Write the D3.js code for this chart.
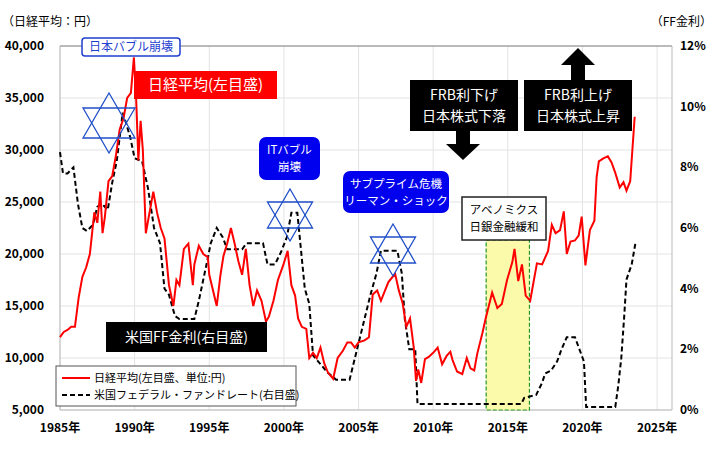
<!DOCTYPE html><html><head><meta charset="utf-8"><script src="https://cdn.jsdelivr.net/npm/d3@7"></script>
<style>body{margin:0;background:#fff}text{font-family:"Noto Sans CJK JP","Noto Sans",sans-serif}</style></head><body><svg id="c" width="714" height="455"></svg>
<script>
const nikkei=[[1985,12000],[1985.25,12500],[1985.5,12700],[1985.75,13000],[1986,13000],[1986.25,15800],[1986.5,17800],[1986.75,18700],[1987,20000],[1987.3,24000],[1987.5,23000],[1987.7,26000],[1987.85,22000],[1988,23500],[1988.25,27000],[1988.5,27500],[1988.75,29500],[1989,32000],[1989.25,33000],[1989.5,35000],[1989.75,35500],[1989.95,38900],[1990.1,35000],[1990.25,29000],[1990.4,32800],[1990.55,30000],[1990.75,22000],[1991,24000],[1991.25,26000],[1991.5,24000],[1991.75,22500],[1992,21500],[1992.3,17000],[1992.6,15000],[1992.8,17500],[1993,17000],[1993.3,20500],[1993.6,21000],[1993.9,17000],[1994,19000],[1994.3,20800],[1994.6,20000],[1994.9,19700],[1995,18000],[1995.5,15000],[1995.75,18000],[1995.95,19800],[1996.2,21000],[1996.45,22500],[1996.7,21000],[1996.95,19300],[1997.2,18000],[1997.45,20500],[1997.7,17000],[1997.95,15000],[1998.2,16500],[1998.5,15500],[1998.8,13500],[1999,14000],[1999.3,15500],[1999.6,17500],[1999.95,18900],[2000.25,20300],[2000.5,17000],[2000.75,16000],[2000.95,13800],[2001.2,13000],[2001.5,12800],[2001.7,10000],[2001.95,10500],[2002.2,10000],[2002.45,11000],[2002.7,9500],[2002.95,8600],[2003.3,8000],[2003.6,10000],[2003.95,10700],[2004.25,11500],[2004.5,11500],[2004.75,11000],[2005,11500],[2005.4,11700],[2005.7,12000],[2005.95,16100],[2006.25,16500],[2006.5,15500],[2006.75,16400],[2007,17300],[2007.45,18100],[2007.7,16500],[2007.95,15300],[2008.2,13000],[2008.45,13800],[2008.7,11000],[2008.85,7800],[2009,8900],[2009.2,7600],[2009.45,9900],[2009.7,10100],[2010,10500],[2010.3,11000],[2010.6,9400],[2010.9,10200],[2011.15,10600],[2011.3,9800],[2011.6,8700],[2011.95,8450],[2012.25,10000],[2012.5,9000],[2012.75,8800],[2012.95,10400],[2013.3,12400],[2013.5,13700],[2013.95,16300],[2014.3,14800],[2014.6,15200],[2014.95,17500],[2015.3,19200],[2015.45,20500],[2015.7,17400],[2015.95,19000],[2016.2,16000],[2016.5,15500],[2016.95,19100],[2017.3,19000],[2017.7,20300],[2017.95,22800],[2018.2,22000],[2018.5,22300],[2018.75,24100],[2018.95,20000],[2019.2,21200],[2019.5,21300],[2019.75,21800],[2019.95,23600],[2020.2,18900],[2020.5,22300],[2020.8,23200],[2020.95,27400],[2021.1,28900],[2021.4,29200],[2021.7,29400],[2021.95,28800],[2022.2,27800],[2022.5,26400],[2022.75,26900],[2022.95,26100],[2023.2,27000],[2023.5,33200]];
const ffRate=[[1985,8.5],[1985.2,7.8],[1985.5,7.8],[1985.9,8.0],[1986.2,6.8],[1986.5,6.0],[1986.8,5.9],[1987.2,6.1],[1987.5,6.7],[1987.8,6.8],[1988.2,6.6],[1988.5,7.5],[1988.8,8.2],[1989.2,9.8],[1989.4,9.5],[1989.7,9.0],[1990,8.3],[1990.5,8.2],[1990.9,7.3],[1991.3,6.0],[1991.7,5.5],[1992,4.0],[1992.3,3.8],[1992.7,3.1],[1993,3.0],[1994,3.0],[1994.3,3.6],[1994.6,4.3],[1994.9,5.0],[1995.1,5.5],[1995.5,6.0],[1995.9,5.7],[1996.2,5.3],[1997.2,5.3],[1997.5,5.5],[1998.6,5.5],[1998.9,4.8],[1999.4,4.8],[1999.8,5.2],[2000.2,5.7],[2000.5,6.5],[2000.9,6.5],[2001.1,5.5],[2001.4,4.0],[2001.7,3.5],[2001.95,1.8],[2002.9,1.25],[2003.5,1.0],[2004.4,1.0],[2004.8,1.8],[2005.3,2.8],[2005.8,3.8],[2006.2,4.5],[2006.5,5.25],[2007.6,5.25],[2007.9,4.5],[2008.1,3.0],[2008.4,2.0],[2008.8,2.0],[2008.95,0.2],[2015.9,0.2],[2016.1,0.4],[2016.9,0.5],[2017.3,0.9],[2017.5,1.2],[2017.9,1.3],[2018.3,1.6],[2018.6,2.0],[2018.95,2.4],[2019.5,2.4],[2019.8,2.0],[2020.1,1.6],[2020.25,0.1],[2022.2,0.1],[2022.4,0.8],[2022.6,1.7],[2022.8,3.1],[2022.95,4.3],[2023.3,4.8],[2023.55,5.5]];
const xTicks=[1985,1990,1995,2000,2005,2010,2015,2020,2025];
const yLeftTicks=[5000,10000,15000,20000,25000,30000,35000,40000];
const yRightTicks=[0,2,4,6,8,10,12];

const svg=d3.select("#c");
const x=d3.scaleLinear().domain([1985,2026]).range([60,672]);
const yL=d3.scaleLinear().domain([5000,40000]).range([410,46]);
const yR=d3.scaleLinear().domain([0,12]).range([410,46]);
svg.append("g").selectAll("line").data(xTicks).join("line").attr("x1",d=>x(d)).attr("x2",d=>x(d)).attr("y1",46).attr("y2",410).attr("stroke","#e3e3e3");
svg.append("g").selectAll("line").data(yLeftTicks).join("line").attr("x1",60).attr("x2",672).attr("y1",d=>yL(d)).attr("y2",d=>yL(d)).attr("stroke",d=>d==40000?"#777":"#e3e3e3");
svg.append("line").attr("x1",60).attr("x2",60).attr("y1",46).attr("y2",410).attr("stroke","#bbb");
svg.append("line").attr("x1",672).attr("x2",672).attr("y1",46).attr("y2",410).attr("stroke","#bbb");
svg.append("line").attr("x1",60).attr("x2",672).attr("y1",410).attr("y2",410).attr("stroke","#bbb");
svg.append("g").selectAll("text").data(yLeftTicks).join("text").attr("x",44).attr("y",d=>yL(d)+4).attr("text-anchor","end").attr("font-size",12).attr("font-weight","bold").text(d=>d3.format(",")(d));
svg.append("g").selectAll("text").data(yRightTicks).join("text").attr("x",680).attr("y",d=>yR(d)+4).attr("font-size",12).attr("font-weight","bold").text(d=>d+"%");
svg.append("g").selectAll("text").data(xTicks).join("text").attr("x",d=>x(d)).attr("y",432).attr("text-anchor","middle").attr("font-size",12).attr("font-weight","bold").text(d=>d+"年");
svg.append("text").attr("x",2).attr("y",26).attr("font-size",12).text("（日経平均：円）");
svg.append("text").attr("x",712).attr("y",26).attr("text-anchor","end").attr("font-size",12).text("（FF金利）");
svg.append("rect").attr("x",x(2013.55)).attr("width",x(2016.45)-x(2013.55)).attr("y",240).attr("height",410-240).attr("fill","#fafaaa").attr("stroke","#229922").attr("stroke-dasharray","4,2").attr("stroke-width",1.2);
svg.append("path").datum(ffRate).attr("d",d3.line().x(d=>x(d[0])).y(d=>yR(d[1]))).attr("fill","none").attr("stroke","#000").attr("stroke-width",2).attr("stroke-dasharray","5,3");
svg.append("path").datum(nikkei).attr("d",d3.line().x(d=>x(d[0])).y(d=>yL(d[1]))).attr("fill","none").attr("stroke","#f00").attr("stroke-width",2);
function star(cx,cy,r){const tri=o=>d3.range(3).map(i=>{const a=o+i*2*Math.PI/3;return [cx+r*Math.sin(a),cy-r*Math.cos(a)]});
 [0,Math.PI].forEach(o=>svg.append("polygon").attr("points",tri(o).join(" ")).attr("fill","none").attr("stroke","#1f4fc8").attr("stroke-width",1.3));}
star(109,123,30);star(290,215,26);star(393,250,26);
function box(x0,y0,w,h,lines,fill,stroke,col,rx,fs){svg.append("rect").attr("x",x0).attr("y",y0).attr("width",w).attr("height",h).attr("rx",rx).attr("fill",fill).attr("stroke",stroke).attr("stroke-width",1.5);
 lines.forEach((l,i)=>svg.append("text").attr("x",x0+w/2).attr("y",y0+h/2+(i-(lines.length-1)/2)*fs*1.5+fs*0.36).attr("text-anchor","middle").attr("font-size",fs).attr("fill",col).text(l));}
box(82,38,98,18,["日本バブル崩壊"],"#fff","#1f3fd0","#1f3fd0",3,12);
box(134,71,143,28,["日経平均(左目盛)"],"#f00","none","#fff",0,15);
box(259,137,61,43,["ITバブル","崩壊"],"#0000ee","none","#fff",7,11.5);
box(343,171,106,42,["サブプライム危機","リーマン・ショック"],"#0000ee","none","#fff",7,11.5);
box(462,197,84,43,["アベノミクス","日銀金融緩和"],"#fff","#222","#000",0,11.5);
box(410,80,108,51,["FRB利下げ","日本株式下落"],"#000","none","#fff",0,14);
box(524,80,108,51,["FRB利上げ","日本株式上昇"],"#000","none","#fff",0,14);
box(106,322,161,30,["米国FF金利(右目盛)"],"#000","none","#fff",0,14);
svg.append("polygon").attr("points","456,131 470,131 470,144 480,144 463,160 446,144 456,144").attr("fill","#000");
svg.append("polygon").attr("points","571,80 585,80 585,65 595,65 578,48 561,65 571,65").attr("fill","#000");
svg.append("rect").attr("x",56).attr("y",366).attr("width",240).attr("height",40).attr("fill","#fff").attr("stroke","#555");
svg.append("line").attr("x1",62).attr("x2",90).attr("y1",378).attr("y2",378).attr("stroke","#f00").attr("stroke-width",2);
svg.append("line").attr("x1",62).attr("x2",90).attr("y1",395).attr("y2",395).attr("stroke","#000").attr("stroke-width",2).attr("stroke-dasharray","5,3");
svg.append("text").attr("x",94).attr("y",382).attr("font-size",11).text("日経平均(左目盛、単位:円)");
svg.append("text").attr("x",94).attr("y",399).attr("font-size",11).text("米国フェデラル・ファンドレート(右目盛)");
</script></body></html>
